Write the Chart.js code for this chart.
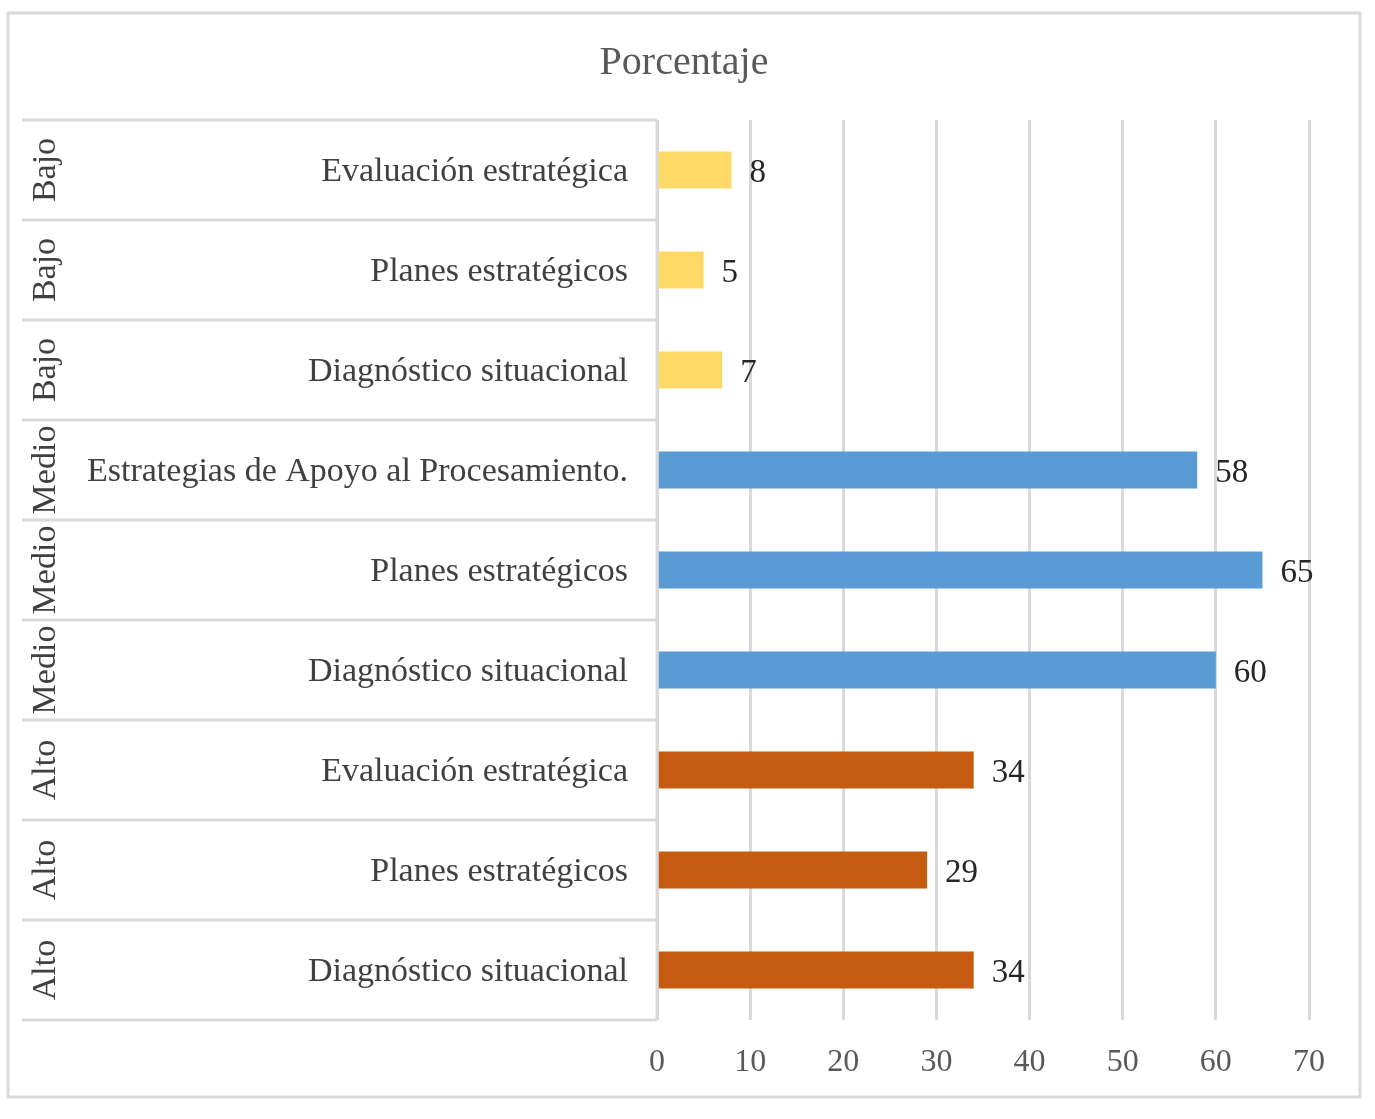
<!DOCTYPE html>
<html>
<head>
<meta charset="utf-8">
<script src="https://cdn.jsdelivr.net/npm/chart.js@4/dist/chart.umd.min.js"></script>
<style>
  body { margin: 0; background: #ffffff; }
  canvas { display: block; }
</style>
</head>
<body>
<canvas id="grafico" width="1375" height="1119"></canvas>
<script>
const titulo = "Porcentaje"
const niveles = ["Bajo", "Bajo", "Bajo", "Medio", "Medio", "Medio", "Alto", "Alto", "Alto"]
const dimensiones = [
    "Evaluación estratégica",
    "Planes estratégicos",
    "Diagnóstico situacional",
    "Estrategias de Apoyo al Procesamiento.",
    "Planes estratégicos",
    "Diagnóstico situacional",
    "Evaluación estratégica",
    "Planes estratégicos",
    "Diagnóstico situacional"
]
const porcentajes = [8, 5, 7, 58, 65, 60, 34, 29, 34]
const ticks_x = [0, 10, 20, 30, 40, 50, 60, 70]
const color_nivel = { "Bajo": "#FFD966", "Medio": "#5B9BD5", "Alto": "#C55A11" }

const fuente = "'Liberation Serif', 'Times New Roman', serif"
const gris = "#d9d9d9"

// marco exterior, titulo y tabla de categorias (dos niveles)
const tabla_categorias = {
    id: "tabla_categorias",
    beforeDraw(chart) {
        const ctx = chart.ctx
        ctx.save()
        ctx.fillStyle = "#ffffff"
        ctx.fillRect(0, 0, chart.width, chart.height)
        ctx.strokeStyle = gris
        ctx.lineWidth = 3
        ctx.strokeRect(8, 13, 1352, 1084)

        ctx.fillStyle = "#595959"
        ctx.font = `40px ${fuente}`
        ctx.textAlign = "center"
        ctx.textBaseline = "middle"
        ctx.fillText(titulo, 684, 63)
        ctx.restore()
    },
    afterDraw(chart) {
        const ctx = chart.ctx
        const y = chart.scales.y
        const area = chart.chartArea
        const x0 = 22
        const n = dimensiones.length
        const paso = n > 1 ? y.getPixelForValue(1) - y.getPixelForValue(0) : area.bottom - area.top

        ctx.save()
        ctx.strokeStyle = gris
        ctx.lineWidth = 3
        ctx.beginPath()
        for (let i = 0; i <= n; i++) {
            const yy = y.getPixelForValue(0) - paso / 2 + i * paso
            ctx.moveTo(x0, yy)
            ctx.lineTo(area.left, yy)
        }
        ctx.moveTo(area.left, area.top)
        ctx.lineTo(area.left, area.bottom)
        ctx.stroke()

        ctx.fillStyle = "#404040"
        ctx.font = `34px ${fuente}`
        ctx.textBaseline = "middle"
        for (let i = 0; i < n; i++) {
            const yc = y.getPixelForValue(i)
            ctx.textAlign = "right"
            ctx.fillText(dimensiones[i], area.left - 29, yc + 2)

            ctx.save()
            ctx.translate(46, yc)
            ctx.rotate(-Math.PI / 2)
            ctx.textAlign = "center"
            ctx.fillText(niveles[i], 0, 0)
            ctx.restore()
        }
        ctx.restore()
    }
}

const etiquetas_valor = {
    id: "etiquetas_valor",
    afterDatasetsDraw(chart) {
        const ctx = chart.ctx
        const meta = chart.getDatasetMeta(0)
        ctx.save()
        ctx.fillStyle = "#262626"
        ctx.font = `33px ${fuente}`
        ctx.textAlign = "left"
        ctx.textBaseline = "middle"
        meta.data.forEach((barra, i) => {
            ctx.fillText(String(porcentajes[i]), barra.x + 18, barra.y + 3)
        })
        ctx.restore()
    }
}

new Chart(document.getElementById("grafico"), {
    type: "bar",
    data: {
        labels: dimensiones,
        datasets: [{
            label: titulo,
            data: porcentajes,
            backgroundColor: niveles.map(nv => color_nivel[nv]),
            barPercentage: 0.37,
            categoryPercentage: 1
        }]
    },
    options: {
        indexAxis: "y",
        responsive: false,
        animation: false,
        devicePixelRatio: 1,
        layout: { padding: { left: 22, right: 66, top: 120, bottom: 0 } },
        plugins: {
            legend: { display: false },
            title: { display: false },
            tooltip: { enabled: false }
        },
        scales: {
            x: {
                min: 0,
                max: 70,
                afterBuildTicks: s => { s.ticks = ticks_x.map(v => ({ value: v })) },
                afterFit: s => { s.height = 99 },
                ticks: {
                    color: "#595959",
                    font: { family: fuente, size: 32 },
                    padding: 23
                },
                grid: { color: gris, lineWidth: 3, drawTicks: false },
                border: { display: false }
            },
            y: {
                afterFit: s => { s.width = 635 },
                ticks: { display: false },
                grid: { display: false },
                border: { display: false }
            }
        }
    },
    plugins: [tabla_categorias, etiquetas_valor]
});
</script>
</body>
</html>
